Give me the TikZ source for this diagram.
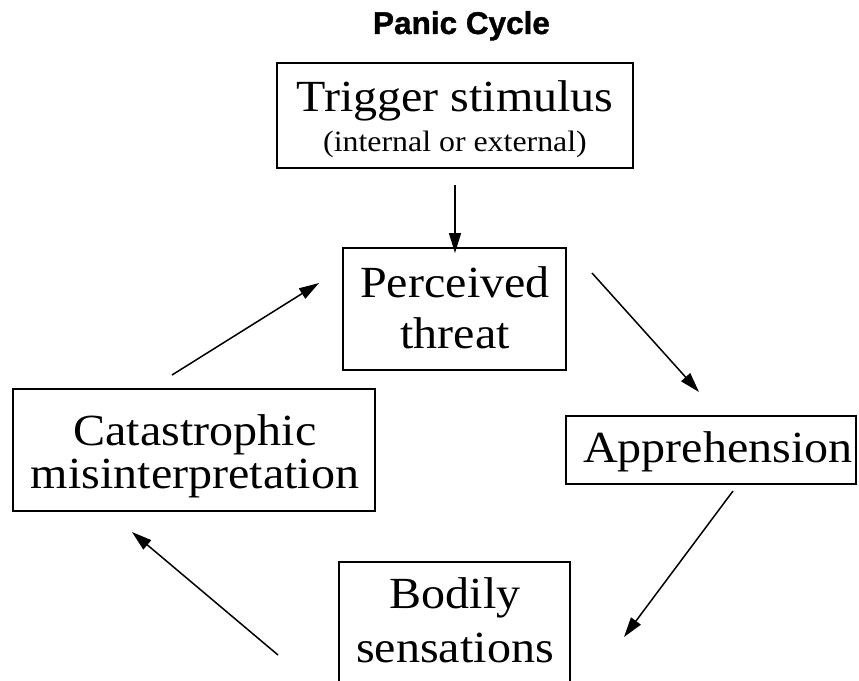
\documentclass[tikz,border=0pt]{standalone}
\usepackage{fontspec}
\setmainfont{Liberation Serif}
\newfontfamily\tnr[FakeStretch=1.08]{Liberation Serif}
\newfontfamily\ttl[FakeBold=1.2]{Liberation Sans}
\usetikzlibrary{arrows.meta}
\begin{document}
\begin{tikzpicture}[x=1bp,y=-1bp,
  box/.style={draw, line width=1.3bp, inner sep=0pt, outer sep=0pt},
  lbl/.style={anchor=base, inner sep=0pt, font=\tnr\fontsize{44.5bp}{50bp}\selectfont},
  sublbl/.style={anchor=base, inner sep=0pt, font=\tnr\fontsize{29.5bp}{34bp}\selectfont},
  arr/.style={line width=1.5bp, -{Triangle[length=20bp,width=12bp]}}]
\useasboundingbox (0,0) rectangle (859,681);
\fill[white] (0,0) rectangle (859,681);
% title
\node[anchor=base, inner sep=0pt, font=\ttl\bfseries\fontsize{31.5bp}{36bp}\selectfont] (title) at (461.5,34) {Panic Cycle};
% boxes
\node[box, minimum width=356bp, minimum height=105bp] (trig) at (455,115.5) {};
\node[box, minimum width=223bp, minimum height=122bp] (per) at (454.5,309) {};
\node[box, minimum width=362bp, minimum height=122bp] (cat) at (194,450) {};
\node[box, minimum width=290bp, minimum height=68bp] (app) at (711,450) {};
\begin{scope}
\clip (0,0) rectangle (859,681);
\node[box, minimum width=231bp, minimum height=140bp] (bod) at (454.5,632) {};
\end{scope}
% texts
\node[lbl] (trig-a) at (455,112) {Trigger stimulus};
\node[sublbl] (trig-b) at (455,152) {(internal or external)};
\node[lbl] (per-a) at (455,297) {Perceived};
\node[lbl] (per-b) at (455,348) {threat};
\node[lbl] (cat-a) at (195,445) {Catastrophic};
\node[lbl] (cat-b) at (195,488) {misinterpretation};
\node[lbl] (app-a) at (718,462) {Apprehension};
\node[lbl] (bod-a) at (455,608) {Bodily};
\node[lbl] (bod-b) at (455,662) {sensations};
% connector ends
\coordinate (t-s) at (455,185);  \coordinate (t-e) at (455,253);
\coordinate (c-s) at (172,375);  \coordinate (c-e) at (319,283);
\coordinate (p-s) at (592,273);  \coordinate (p-e) at (699,392);
\coordinate (a-s) at (733,491);  \coordinate (a-e) at (624,637);
\coordinate (b-s) at (278,655);  \coordinate (b-e) at (132,532);
\draw[arr] (t-s) -- (t-e);
\draw[arr] (c-s) -- (c-e);
\draw[arr] (p-s) -- (p-e);
\draw[arr] (a-s) -- (a-e);
\draw[arr] (b-s) -- (b-e);
\end{tikzpicture}
\end{document}
